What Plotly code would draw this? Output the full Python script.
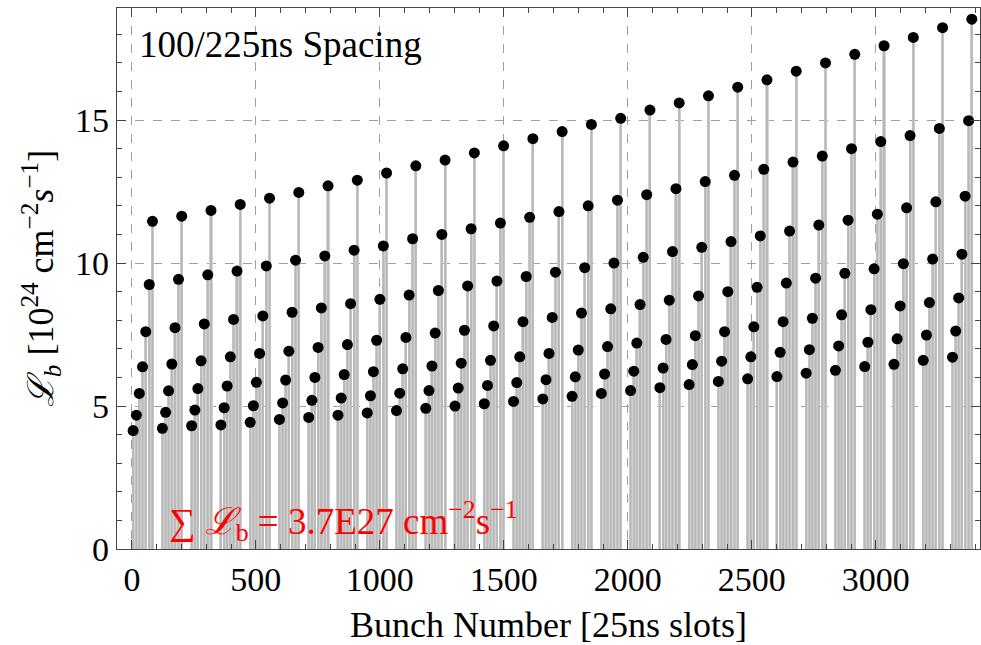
import plotly.graph_objects as go

# --- data ---
train_starts = [0, 118, 236, 354, 472, 590, 708, 826, 944, 1062, 1180, 1298, 1416, 1534,
                1652, 1770, 1888, 2006, 2124, 2242, 2360, 2478, 2596, 2714, 2832, 2950,
                3068, 3186, 3304]
bunch_offsets = [5, 18, 30, 43, 56, 70, 83]

level1 = [4.14, 4.22, 4.31, 4.34, 4.43, 4.53, 4.60, 4.68, 4.76, 4.84, 4.92, 5.00, 5.08, 5.16,
          5.25, 5.34, 5.44, 5.54, 5.64, 5.75, 5.86, 5.95, 6.03, 6.15, 6.25, 6.38, 6.46, 6.60, 6.71]
level2 = [4.68, 4.78, 4.86, 4.94, 5.01, 5.11, 5.20, 5.28, 5.36, 5.45, 5.54, 5.63, 5.72, 5.82,
          5.92, 6.02, 6.12, 6.22, 6.33, 6.45, 6.57, 6.72, 6.88, 6.97, 7.10, 7.23, 7.35, 7.48, 7.62]
level3 = [5.44, 5.53, 5.61, 5.70, 5.83, 5.91, 6.00, 6.10, 6.20, 6.30, 6.40, 6.50, 6.60, 6.72,
          6.84, 6.96, 7.08, 7.20, 7.33, 7.46, 7.60, 7.77, 7.95, 8.07, 8.19, 8.37, 8.50, 8.62, 8.78]
level4 = [6.37, 6.47, 6.58, 6.72, 6.84, 6.92, 7.05, 7.15, 7.30, 7.40, 7.55, 7.65, 7.80, 7.95,
          8.10, 8.25, 8.40, 8.55, 8.70, 8.85, 9.00, 9.15, 9.30, 9.47, 9.64, 9.80, 9.98, 10.14, 10.31]
level5 = [7.60, 7.74, 7.87, 8.03, 8.15, 8.28, 8.43, 8.58, 8.73, 8.88, 9.04, 9.20, 9.37, 9.53,
          9.68, 9.84, 10.00, 10.20, 10.40, 10.55, 10.75, 10.95, 11.12, 11.33, 11.50, 11.71, 11.93, 12.14, 12.34]
level6 = [9.25, 9.43, 9.59, 9.72, 9.90, 10.10, 10.25, 10.45, 10.60, 10.85, 11.00, 11.20, 11.40, 11.60,
          11.80, 12.00, 12.20, 12.39, 12.60, 12.85, 13.07, 13.28, 13.53, 13.74, 14.00, 14.25, 14.46, 14.71, 14.98]
level7 = [11.46, 11.64, 11.84, 12.05, 12.27, 12.47, 12.70, 12.90, 13.15, 13.40, 13.60, 13.85, 14.10, 14.35,
          14.60, 14.85, 15.06, 15.35, 15.60, 15.85, 16.15, 16.41, 16.71, 17.00, 17.30, 17.60, 17.89, 18.23, 18.53]
levels = [level1, level2, level3, level4, level5, level6, level7]

x_ticks = [0, 500, 1000, 1500, 2000, 2500, 3000]
y_ticks = [0, 5, 10, 15]

# --- build point lists from the arrays ---
bx, by = [], []
for t, start in enumerate(train_starts):
    for k, off in enumerate(bunch_offsets):
        bx.append(start + off)
        by.append(levels[k][t])

stem_x, stem_y = [], []
for x, y in zip(bx, by):
    stem_x += [x, x, None]
    stem_y += [0, y, None]

SERIF = "Liberation Serif, Times New Roman, serif"

fig = go.Figure()
fig.add_trace(go.Bar(x=bx, y=by, width=12.5, marker=dict(color="#d4d4d4", line=dict(width=0)),
                     hoverinfo="skip", showlegend=False))
fig.add_trace(go.Scatter(x=stem_x, y=stem_y, mode="lines", line=dict(color="#b8b8b8", width=2),
                         hoverinfo="skip", showlegend=False))
fig.add_trace(go.Scatter(x=bx, y=by, mode="markers",
                         marker=dict(color="black", size=11, symbol="circle"),
                         showlegend=False))

axis_common = dict(showline=True, linecolor="#444", linewidth=1.2, mirror="ticks",
                   ticks="inside", tickcolor="#444", ticklen=9, tickwidth=1,
                   showgrid=True, gridcolor="#a0a0a0", griddash="dash", gridwidth=1,
                   zeroline=False, automargin=False,
                   tickfont=dict(family=SERIF, size=34, color="black"))

fig.update_xaxes(range=[-60, 3420], tickvals=x_ticks,
                 minor=dict(dtick=100, tick0=0, ticks="inside", ticklen=5, tickcolor="#444", showgrid=False),
                 title=dict(text="Bunch Number [25ns slots]", font=dict(family=SERIF, size=36, color="black"),
                            standoff=14),
                 **axis_common)
fig.update_yaxes(range=[0, 18.92], tickvals=y_ticks,
                 minor=dict(dtick=1, tick0=0, ticks="inside", ticklen=5, tickcolor="#444", showgrid=False),
                 title=dict(text="<i>ℒ<sub>b</sub></i> [10<sup>24</sup> cm<sup>−2</sup><i>s</i><sup>−1</sup>]",
                            font=dict(family=SERIF, size=36, color="black"), standoff=10),
                 **axis_common)

fig.add_annotation(x=0.023, y=0.975, xref="paper", yref="paper", xanchor="left", yanchor="top",
                   text="100/225ns Spacing", showarrow=False,
                   font=dict(family=SERIF, size=37, color="black"))
fig.add_annotation(x=0.058, y=0.0, xref="paper", yref="paper", xanchor="left", yanchor="bottom",
                   text="∑ <i>ℒ</i><sub>b</sub> = 3.7E27 cm<sup>−2</sup>s<sup>−1</sup>", showarrow=False,
                   font=dict(family=SERIF, size=37, color="red"))

fig.update_layout(width=981, height=645, margin=dict(l=117, r=1, t=8, b=96),
                  plot_bgcolor="white", paper_bgcolor="white", bargap=0)

fig.write_html("out.html", config={"displayModeBar": False},
               post_script="document.body.style.margin='0';document.body.style.overflow='hidden';")
